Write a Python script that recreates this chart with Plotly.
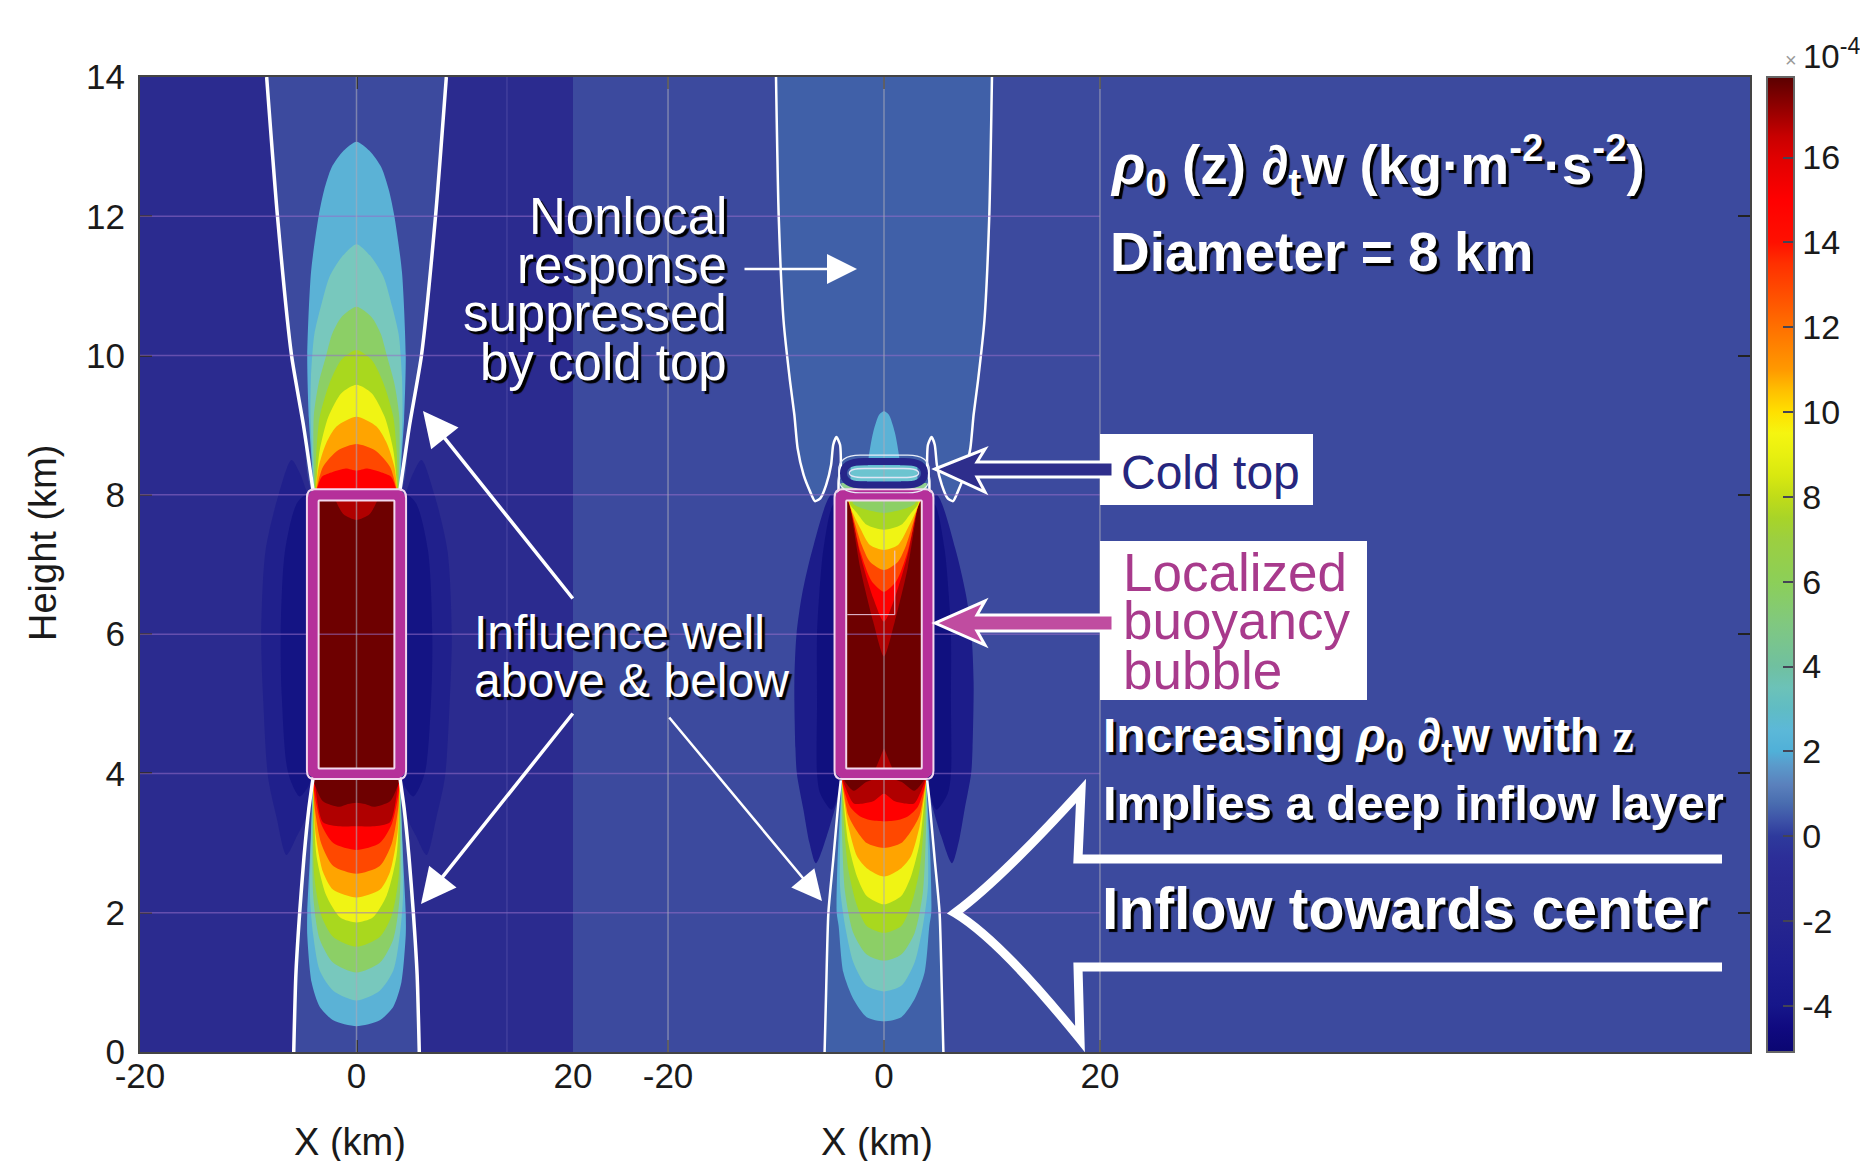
import plotly.graph_objects as go

W, H = 1860, 1161

# ---- colour bands ----
C_BG_LEFT = "#2b2b8f"
C_BG_RIGHT = "#3c4a9e"
C_INSIDE_RIGHT = "#4060a8"
C_LOBE_OUT_L = "#20208c"
C_LOBE_IN_L = "#141484"
C_LOBE_OUT_R = "#1c1c8a"
C_LOBE_IN_R = "#10107f"
C_BLUE = "#5bb2d6"
C_TEAL = "#78c8bd"
C_GREEN = "#8ccf66"
C_LIME = "#a9d81e"
C_YELLOW = "#f0f414"
C_ORANGE = "#ffa400"
C_REDOR = "#ff4800"
C_RED = "#ff0000"
C_DARKRED = "#b00000"
C_MAROON = "#6e0000"
C_MAGENTA = "#b5309a"
C_NAVY = "#26268a"

# ---- contour boundaries: (half-width km, height km) ----
lt_blue = [(0,13.07),(1.2,12.94),(2.3,12.7),(3.0,12.37),(3.5,12.0),(4.2,11.2),(4.55,10.0),(4.4,9.1),(4.15,8.5),(3.95,8.0)]
lt_teal = [(0,11.6),(1.4,11.41),(2.5,11.13),(3.3,10.7),(3.9,10.3),(4.2,9.7),(4.25,9.12),(3.9,8.0)]
lt_green = [(0,10.7),(1.4,10.55),(2.25,10.31),(2.8,10.0),(3.5,9.6),(3.95,9.12),(3.9,8.0)]
lt_lime = [(0,10.08),(1.4,9.94),(2.5,9.6),(3.4,9.12),(3.7,8.64),(3.85,8.0)]
lt_yellow = [(0,9.58),(1.4,9.46),(2.6,9.12),(3.4,8.64),(3.8,8.0)]
lt_orange = [(0,9.12),(1.85,8.98),(2.8,8.74),(3.5,8.4),(3.8,8.0)]
lt_redor = [(0,8.73),(1.7,8.64),(3.1,8.4),(3.8,8.0)]
lt_red = [(0,8.35),(1.0,8.38),(2.2,8.33),(3.2,8.26),(3.8,8.0)]
l_core = [(0,8.0),(3.95,8.0),(3.95,3.95),(0,3.95)]
l_blob = [(0,7.64),(1.2,7.72),(2.0,7.95),(2.1,8.05)]

lb_blue = [(0,.37),(2.15,.455),(3.4,.65),(4.15,1.0),(4.55,1.68),(4.55,2.0),(4.3,2.8),(4.0,3.95)]
lb_teal = [(0,.74),(2.15,.88),(3.4,1.17),(4.0,1.68),(4.3,2.25),(4.0,3.95)]
lb_green = [(0,1.14),(2.15,1.28),(3.4,1.62),(4.0,2.25),(4.0,3.95)]
lb_lime = [(0,1.51),(2.15,1.65),(3.25,1.96),(3.9,2.53),(4.0,3.95)]
lb_yellow = [(0,1.86),(1.5,1.93),(2.8,2.25),(3.7,2.82),(4.0,3.95)]
lb_orange = [(0,2.22),(2.15,2.33),(3.1,2.59),(3.8,3.16),(4.0,3.95)]
lb_redor = [(0,2.56),(2.15,2.67),(3.25,2.99),(3.85,3.5),(4.0,3.95)]
lb_red = [(0,2.9),(2.15,3.0),(3.25,3.27),(3.9,3.73),(4.0,3.95)]
lb_darkred = [(0,3.24),(1.5,3.24),(3.1,3.3),(3.85,3.84),(4.0,3.95)]
lb_maroon = [(0,3.58),(0.8,3.56),(1.6,3.52),(3.1,3.6),(3.85,3.84),(4.0,3.95)]

l_white_top = [(8.3,14.0),(7.3,12.0),(6.0,10.0),(4.9,9.0),(4.0,8.05)]
l_white_bot = [(5.8,0.0),(5.6,1.11),(5.25,2.0),(4.85,2.8),(4.4,3.5),(4.0,3.95)]
l_lobe_out = [(6.0,8.5),(7.2,8.0),(8.4,7.2),(8.8,6.0),(8.6,5.0),(8.17,3.95),(7.4,3.38),(6.47,2.83),(5.5,3.1),(4.6,3.4),(4.0,4.0),(4.0,8.0),(4.4,8.0),(5.2,8.3)]
l_lobe_in = [(4.6,8.0),(5.5,7.88),(6.6,7.2),(7.0,6.0),(6.9,5.1),(6.3,4.0),(5.24,3.67),(4.5,3.8),(4.0,4.0),(4.0,7.9)]

r_white_top = [(10.0,14.0),(9.75,12.0),(9.3,10.5),(8.7,9.63),(8.3,9.15),(8.0,8.67),(7.45,8.29),(6.85,8.05),(6.4,7.91),(5.9,7.95),(5.36,8.14),(4.9,8.43),(4.7,8.72),(4.4,8.83),(4.07,8.72),(4.0,8.43),(4.2,8.2),(4.2,8.0)]
r_white_bot = [(5.5,0.0),(5.36,0.86),(5.15,2.0),(4.7,2.76),(4.2,3.62),(4.0,3.9)]
r_lobe_out = [(4.9,8.0),(6.6,7.23),(7.6,6.56),(8.1,6.0),(8.3,5.3),(8.2,4.36),(8.07,4.0),(7.46,3.48),(6.9,3.0),(6.3,2.71),(5.3,3.1),(4.2,3.71),(4.0,4.0),(4.0,8.0)]
r_lobe_in = [(4.7,7.86),(5.6,7.23),(6.0,6.56),(6.2,6.0),(6.2,5.0),(6.2,4.0),(5.9,3.71),(4.84,3.48),(4.2,3.75),(4.0,4.0),(4.0,7.9)]

rt_spike = [(0,9.2),(0.45,9.15),(1.0,8.9),(1.45,8.5),(1.6,8.1)]
rt_strip = [(0,8.17),(3.95,8.17),(3.95,7.95),(0,7.95)]
rt_ringfill = [(0,8.42),(3.1,8.42),(3.1,8.2),(0,8.2)]
r_core = [(0,7.95),(3.95,7.95),(3.95,3.95),(0,3.95)]
r_tip = [(0,4.36),(0.83,4.05),(0.83,3.98),(0,3.98)]
rv_darkred = [(0,5.68),(1.0,6.18),(2.2,6.95),(3.14,7.81),(3.45,7.95),(0,7.95)]
rv_red = [(0,6.18),(1.0,6.52),(2.2,7.14),(3.2,7.88),(3.45,7.95),(0,7.95)]
rv_redor = [(0,6.61),(1.14,6.76),(2.2,7.19),(3.2,7.88),(3.42,7.95),(0,7.95)]
rv_orange = [(0,6.92),(1.3,7.04),(2.06,7.28),(3.14,7.83),(3.4,7.95),(0,7.95)]
rv_yellow = [(0,7.21),(1.3,7.28),(2.2,7.52),(3.0,7.78),(3.3,7.95),(0,7.95)]
rv_lime = [(0,7.5),(1.6,7.57),(2.5,7.74),(3.14,7.86),(3.2,7.95),(0,7.95)]
rv_green = [(0,7.74),(1.9,7.8),(2.83,7.87),(3.0,7.95),(0,7.95)]

rb_blue = [(0,.44),(1.6,.5),(2.84,.76),(3.76,1.14),(4.2,1.81),(4.38,2.0),(4.3,2.76),(3.9,3.9)]
rb_teal = [(0,.87),(1.6,.95),(2.84,1.29),(3.6,1.81),(4.07,2.38),(3.9,3.9)]
rb_green = [(0,1.31),(1.6,1.4),(2.84,1.71),(3.6,2.29),(3.9,3.24),(3.9,3.9)]
rb_lime = [(0,1.71),(1.6,1.81),(2.5,2.1),(3.3,2.62),(3.8,3.48),(3.9,3.9)]
rb_yellow = [(0,2.12),(1.6,2.24),(2.5,2.52),(3.3,3.0),(3.8,3.71),(3.9,3.9)]
rb_orange = [(0,2.52),(1.6,2.64),(2.5,2.81),(3.3,3.24),(3.8,3.76),(3.9,3.9)]
rb_redor = [(0,2.93),(1.6,3.0),(2.5,3.17),(3.3,3.4),(3.8,3.81),(3.9,3.9)]
rb_red = [(0,3.31),(1.3,3.33),(2.2,3.38),(3.14,3.52),(3.75,3.8),(3.9,3.95)]
rb_darkred = [(0,3.71),(1.0,3.6),(1.9,3.57),(2.8,3.57),(3.7,3.85),(3.9,3.95)]
rb_maroon = [(0,3.95),(1.6,3.88),(2.8,3.75),(3.6,3.88),(3.9,4.0)]

# ---- colour bar ----
cb_values = [-5.09,-4.5,-4,-3,-2,-1,-0.5,0,0.4,0.8,1.2,1.7,2,2.5,3,3.5,4,5,6,7,7.5,8,8.5,9,9.5,10,10.5,11,12,12.5,13.5,14,15,16,16.5,17,17.9]
cb_colors = ["#0a0672","#100a80","#16168a","#1e1e90","#26268f","#2a2a94","#2c2e98","#2e3a9c","#3e54a8","#4a6eb0","#5a80bc","#5a9ccc","#50b0d8","#5cb8d8","#60bcc4","#6cc2b8","#70c0a0","#80c880","#8ccf58","#9ccf40","#a8d428","#c0dc18","#d8e810","#e8f010","#f5f510","#ffe000","#ffc000","#ff9900","#ff7000","#ff5a00","#ff3000","#ff1000","#ff0000","#e00000","#c80000","#a00000","#5a0000"]
cb_ticks = [-4,-2,0,2,4,6,8,10,12,14,16]
cb_labels = ["-4","-2","0","2","4","6","8","10","12","14","16"]

y_ticks = [0,2,4,6,8,10,12,14]
x_ticks = [-20,0,20]
LEFT_RANGE = [-20, 20]
RIGHT_RANGE = [-28.8, 80.2]

fig = go.Figure()


def mirror(points):
    # a point on the centre line (half-width 0) is used only once
    left = [p for p in reversed(points) if p[0] != 0]
    xs = [-p[0] for p in left] + [p[0] for p in points]
    ys = [p[1] for p in left] + [p[1] for p in points]
    return xs, ys


def band(points, color, ax="x", shape="spline"):
    xs, ys = mirror(points)
    fig.add_trace(go.Scatter(x=xs, y=ys, mode="lines", fill="toself", fillcolor=color,
                             line=dict(width=0, shape=shape, smoothing=0.7, color=color),
                             xaxis=ax, yaxis="y" if ax == "x" else "y2",
                             hoverinfo="skip", showlegend=False))


def side(points, color, ax):
    for s in (-1, 1):
        xs = [s * p[0] for p in points] + [s * points[0][0]]
        ys = [p[1] for p in points] + [points[0][1]]
        fig.add_trace(go.Scatter(x=xs, y=ys, mode="lines", fill="toself", fillcolor=color,
                                 line=dict(width=0, shape="spline", smoothing=0.8, color=color),
                                 xaxis=ax, yaxis="y" if ax == "x" else "y2",
                                 hoverinfo="skip", showlegend=False))


def white(points, ax, width):
    for s in (-1, 1):
        fig.add_trace(go.Scatter(x=[s * p[0] for p in points], y=[p[1] for p in points], mode="lines",
                                 line=dict(color="white", width=width, shape="spline", smoothing=0.6),
                                 xaxis=ax, yaxis="y" if ax == "x" else "y2",
                                 hoverinfo="skip", showlegend=False))


def inside(points, color, ax):
    xs = [-p[0] for p in points] + [p[0] for p in reversed(points)]
    ys = [p[1] for p in points] + [p[1] for p in reversed(points)]
    fig.add_trace(go.Scatter(x=xs, y=ys, mode="lines", fill="toself", fillcolor=color,
                             line=dict(width=0, shape="spline", smoothing=0.6, color=color),
                             xaxis=ax, yaxis="y" if ax == "x" else "y2",
                             hoverinfo="skip", showlegend=False))


# --- left panel ---
fig.add_trace(go.Scatter(x=[-20, 20, 20, -20, -20], y=[0, 0, 14, 14, 0], mode="lines", fill="toself",
                         fillcolor=C_BG_LEFT, line=dict(width=0), hoverinfo="skip", showlegend=False,
                         xaxis="x", yaxis="y"))
inside(l_white_top, C_BG_RIGHT, "x")
inside(l_white_bot, C_BG_RIGHT, "x")
side(l_lobe_out, C_LOBE_OUT_L, "x")
side(l_lobe_in, C_LOBE_IN_L, "x")
for pts, col in [(lt_blue, C_BLUE), (lt_teal, C_TEAL), (lt_green, C_GREEN), (lt_lime, C_LIME),
                 (lt_yellow, C_YELLOW), (lt_orange, C_ORANGE), (lt_redor, C_REDOR), (lt_red, C_RED),
                 (lb_blue, C_BLUE), (lb_teal, C_TEAL), (lb_green, C_GREEN), (lb_lime, C_LIME),
                 (lb_yellow, C_YELLOW), (lb_orange, C_ORANGE), (lb_redor, C_REDOR), (lb_red, C_RED),
                 (lb_darkred, C_DARKRED), (lb_maroon, C_MAROON)]:
    band(pts, col, "x")
band(l_core, C_MAROON, "x", "linear")
band(l_blob, C_DARKRED, "x")
white(l_white_top, "x", 3.5)
white(l_white_bot, "x", 3.5)

# --- right panel ---
inside(r_white_top, C_INSIDE_RIGHT, "x2")
inside(r_white_bot, C_INSIDE_RIGHT, "x2")
side(r_lobe_out, C_LOBE_OUT_R, "x2")
side(r_lobe_in, C_LOBE_IN_R, "x2")
band(rt_spike, C_BLUE, "x2")
band(rt_strip, "#90d090", "x2", "linear")
band(rt_ringfill, "#6cc4d0", "x2", "linear")
for pts, col in [(rb_blue, C_BLUE), (rb_teal, C_TEAL), (rb_green, C_GREEN), (rb_lime, C_LIME),
                 (rb_yellow, C_YELLOW), (rb_orange, C_ORANGE), (rb_redor, C_REDOR), (rb_red, C_RED),
                 (rb_darkred, C_DARKRED), (rb_maroon, C_MAROON)]:
    band(pts, col, "x2")
band(r_core, C_MAROON, "x2", "linear")
band(r_tip, C_DARKRED, "x2", "linear")
for pts, col in [(rv_darkred, C_DARKRED), (rv_red, C_RED), (rv_redor, C_REDOR), (rv_orange, C_ORANGE),
                 (rv_yellow, C_YELLOW), (rv_lime, C_LIME), (rv_green, C_GREEN)]:
    band(pts, col, "x2")
white(r_white_top, "x2", 2.5)
white(r_white_bot, "x2", 2.5)

# --- colour bar carrier (outside the visible range of the axes) ---
zmin, zmax = cb_values[0], cb_values[-1]
scale = [[(v - zmin) / (zmax - zmin), c] for v, c in zip(cb_values, cb_colors)]
fig.add_trace(go.Heatmap(z=[[zmin, zmax]], x=[500, 501], y=[50], zmin=zmin, zmax=zmax, colorscale=scale,
                         xaxis="x2", yaxis="y2", hoverinfo="skip",
                         colorbar=dict(lenmode="pixels", len=975, thicknessmode="pixels", thickness=27,
                                       x=1767 / W, xanchor="left", y=(H - 1052) / H, yanchor="bottom",
                                       xpad=0, ypad=0, tickvals=cb_ticks, ticktext=cb_labels, ticks="inside", ticklen=12,
                                       tickwidth=2, tickcolor="#445", outlinecolor="#666", outlinewidth=2,
                                       tickfont=dict(family="Liberation Sans", size=34, color="#1a1a1a"))))


def px(x):
    return x / W


def py(y):
    return 1 - y / H


def poly(points):
    return "M" + " L".join(f"{px(x):.5f},{py(y):.5f}" for x, y in points) + " Z"


shapes = []
GRID = "rgba(150,110,200,0.55)"
GREY = "rgba(170,170,185,0.6)"
for yv in y_ticks[1:-1]:
    shapes.append(dict(type="line", xref="x", yref="y", x0=-20, x1=20, y0=yv, y1=yv, line=dict(color=GRID, width=1.5), layer="above"))
    shapes.append(dict(type="line", xref="x2", yref="y2", x0=-28.8, x1=20, y0=yv, y1=yv, line=dict(color=GRID, width=1.5), layer="above"))
shapes.append(dict(type="line", xref="x", yref="y", x0=0, x1=0, y0=0, y1=14, line=dict(color=GREY, width=1.5), layer="above"))
shapes.append(dict(type="line", xref="x", yref="y", x0=13.9, x1=13.9, y0=0, y1=14, line=dict(color="rgba(120,110,190,0.45)", width=1), layer="above"))
for xv in x_ticks:
    shapes.append(dict(type="line", xref="x2", yref="y2", x0=xv, x1=xv, y0=0, y1=14, line=dict(color=GREY, width=1.5), layer="above"))


def rrect(hw, z0, z1, rx, rz):
    return (f"M{-hw + rx},{z0} L{hw - rx},{z0} Q{hw},{z0} {hw},{z0 + rz} L{hw},{z1 - rz} "
            f"Q{hw},{z1} {hw - rx},{z1} L{-hw + rx},{z1} Q{-hw},{z1} {-hw},{z1 - rz} "
            f"L{-hw},{z0 + rz} Q{-hw},{z0} {-hw + rx},{z0} Z")


for ax, ay in (("x", "y"), ("x2", "y2")):
    shapes.append(dict(type="path", xref=ax, yref=ay, path=rrect(4.05, 4.0, 8.0, 0.5, 0.08),
                       line=dict(color=C_MAGENTA, width=11), layer="above"))
    shapes.append(dict(type="path", xref=ax, yref=ay, path=rrect(4.58, 3.92, 8.08, 0.7, 0.12),
                       line=dict(color="#f3d8ee", width=2), layer="above"))
    shapes.append(dict(type="path", xref=ax, yref=ay, path=rrect(3.5, 4.07, 7.92, 0.05, 0.01),
                       line=dict(color="#f3d8ee", width=2), layer="above"))

# cold-top ring
shapes.append(dict(type="path", xref="x2", yref="y2", path=rrect(3.75, 8.14, 8.48, 1.9, 0.17),
                   line=dict(color=C_NAVY, width=7), layer="above"))
shapes.append(dict(type="path", xref="x2", yref="y2", path=rrect(3.2, 8.25, 8.38, 1.4, 0.065),
                   line=dict(color="#dfe6f5", width=1.5), layer="above"))
shapes.append(dict(type="path", xref="x2", yref="y2", path=rrect(4.2, 8.03, 8.57, 2.0, 0.22),
                   line=dict(color="#e8edf8", width=1.2), layer="above"))
# thin mark inside the right bubble
shapes.append(dict(type="path", xref="x2", yref="y2", path="M-3.4,6.28 L1.0,6.28 L1.0,7.2",
                   line=dict(color="#e9c9e0", width=1), layer="above"))

# label boxes
shapes.append(dict(type="rect", xref="paper", yref="paper", x0=px(1100), x1=px(1313), y0=py(505), y1=py(434),
                   fillcolor="white", line=dict(width=0), layer="above"))
shapes.append(dict(type="rect", xref="paper", yref="paper", x0=px(1100), x1=px(1367), y0=py(700), y1=py(541),
                   fillcolor="white", line=dict(width=0), layer="above"))
# cold-top arrow
shapes.append(dict(type="path", xref="paper", yref="paper",
                   path=poly([(935, 469), (985, 449), (977, 462), (1113, 462), (1113, 477), (977, 477), (985, 492)]),
                   fillcolor="#2e2e8c", line=dict(color="white", width=3), layer="above"))
# buoyancy arrow
shapes.append(dict(type="path", xref="paper", yref="paper",
                   path=poly([(935, 623), (985, 601), (977, 615), (1113, 615), (1113, 631), (977, 631), (985, 645)]),
                   fillcolor="#c04ca0", line=dict(color="white", width=3), layer="above"))
# big inflow arrow outline
shapes.append(dict(type="path", xref="paper", yref="paper",
                   path=(f"M{px(1722)},{py(859)} L{px(1078)},{py(859)} L{px(1081)},{py(791)} "
                         f"Q{px(1000)},{py(880)} {px(955)},{py(913)} Q{px(1000)},{py(940)} {px(1080)},{py(1039)} "
                         f"L{px(1078)},{py(967)} L{px(1722)},{py(967)}"),
                   line=dict(color="white", width=9), layer="above"))

SANS = "Liberation Sans"
SHADOW = "3px 3px 1px #000"
ann = []


def text(t, x, y, size, anchor="left", color="white", shadow=SHADOW, angle=0):
    f = dict(family=SANS, size=size, color=color)
    if shadow:
        f["shadow"] = shadow
    ann.append(dict(text=t, x=px(x), y=py(y), xref="paper", yref="paper", showarrow=False,
                    xanchor=anchor, yanchor="middle", font=f, textangle=angle))


def arrow(x0, y0, x1, y1, width=3.5, size=2.0):
    ann.append(dict(text="", x=px(x1), y=py(y1), xref="paper", yref="paper", ax=x0 - x1, ay=y0 - y1,
                    axref="pixel", ayref="pixel", showarrow=True, arrowhead=2, arrowsize=size,
                    arrowwidth=width, arrowcolor="white", standoff=0))


text("Nonlocal", 729, 216, 51, "right")
text("response", 729, 265, 51, "right")
text("suppressed", 729, 314, 51, "right")
text("by cold top", 729, 363, 51, "right")
text("Influence well", 472, 632, 48)
text("above &amp; below", 472, 680, 48)
text("Cold top", 1119, 472, 48, color="#26267e", shadow=None)
text("Localized", 1121, 572, 53, color="#a83a8c", shadow=None)
text("buoyancy", 1121, 621, 53, color="#a83a8c", shadow=None)
text("bubble", 1121, 670, 53, color="#a83a8c", shadow=None)
text("<b><i>ρ</i><sub>0</sub> (z) ∂<sub>t</sub>w (kg·m<sup>-2</sup>·s<sup>-2</sup>)</b>", 1108, 165, 55)
text("<b>Diameter = 8 km</b>", 1108, 252, 55)
text("<b>Increasing <i>ρ</i><sub>0</sub> ∂<sub>t</sub>w with <span style=\"font-family:'Liberation Serif'\">z</span></b>", 1101, 739, 48)
text("<b>Implies a deep inflow layer</b>", 1101, 803, 49)
text("<b>Inflow towards center</b>", 1100, 909, 59)
text("×", 1783, 60, 20, color="#999999", shadow=None)
text("10<sup>-4</sup>", 1801, 54, 33, color="#1a1a1a", shadow=None)
text("X (km)", 350, 1142, 38, "center", "#1a1a1a", None)
text("X (km)", 877, 1142, 38, "center", "#1a1a1a", None)
text("Height (km)", 43, 543, 38, "center", "#1a1a1a", None, -90)

arrow(574, 600, 423, 411)
arrow(574, 712, 421, 904)
arrow(668, 716, 822, 901, 2.5, 2.4)
arrow(743, 269, 857, 269, 2.5, 2.4)

AX_FONT = dict(family=SANS, size=35, color="#1a1a1a")
common_x = dict(ticks="inside", ticklen=12, tickwidth=2, tickcolor="#222", showgrid=False, zeroline=False,
                showline=True, linecolor="#444", linewidth=2, mirror="ticks", tickfont=AX_FONT,
                ticklabelstandoff=-8, tickvals=x_ticks, ticktext=["-20", "0", "20"], fixedrange=True)
common_y = dict(ticks="inside", ticklen=12, tickwidth=2, tickcolor="#222", showgrid=False, zeroline=False,
                showline=True, linecolor="#444", linewidth=2, tickvals=y_ticks, range=[0, 14],
                domain=[(H - 1052) / H, (H - 77) / H], fixedrange=True)

fig.update_layout(
    width=W, height=H, margin=dict(l=0, r=0, t=0, b=0, autoexpand=False), autosize=False,
    paper_bgcolor="white", plot_bgcolor=C_BG_RIGHT, showlegend=False,
    font=dict(family=SANS),
    xaxis=dict(domain=[140 / W, 573 / W], range=LEFT_RANGE, anchor="y", **common_x),
    xaxis2=dict(domain=[573 / W, 1750 / W], range=RIGHT_RANGE, anchor="y2", **common_x),
    yaxis=dict(anchor="x", tickfont=AX_FONT, ticklabelstandoff=6, **common_y),
    yaxis2=dict(anchor="x2", side="right", showticklabels=False, **common_y),
    shapes=shapes, annotations=ann,
)

fig.write_html("out.html", config={"displayModeBar": False},
               post_script="document.body.style.margin='0';document.body.style.overflow='hidden';")
